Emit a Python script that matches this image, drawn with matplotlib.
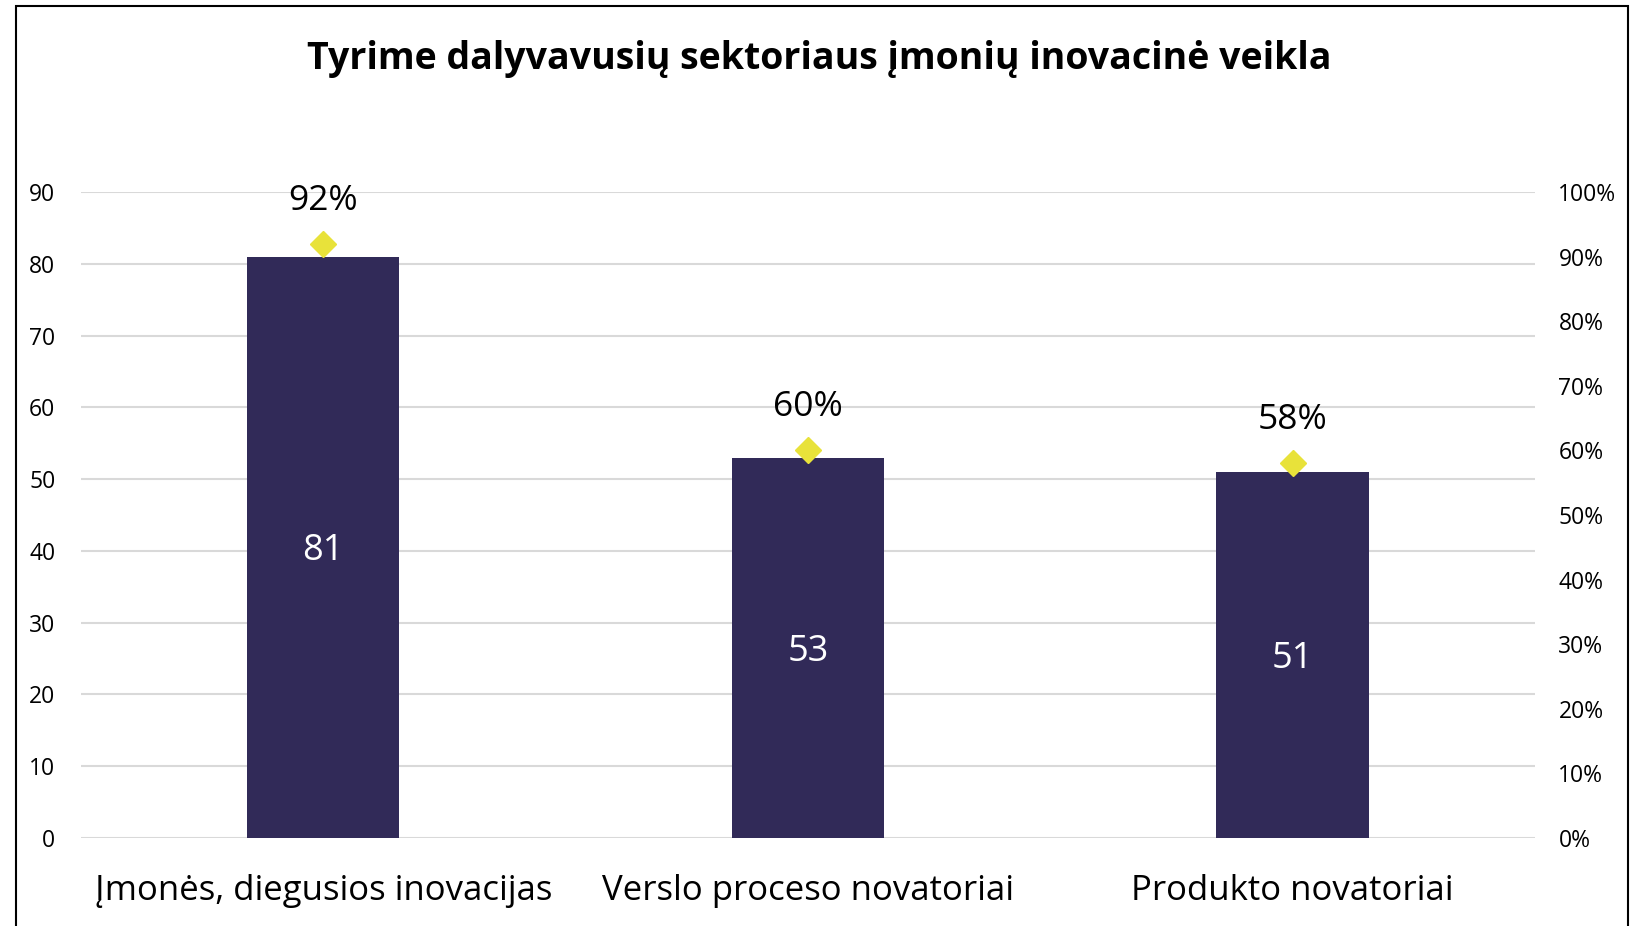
import matplotlib
matplotlib.use("Agg")
import matplotlib.pyplot as plt
from matplotlib.patches import Rectangle
from matplotlib.ticker import PercentFormatter

plt.rcParams["font.family"] = ["Open Sans", "DejaVu Sans"]

categories = ["Įmonės, diegusios inovacijas", "Verslo proceso novatoriai", "Produkto novatoriai"]
counts = [81, 53, 51]
shares = [0.92, 0.60, 0.58]
share_labels = ["92%", "60%", "58%"]

BAR_COLOR = "#312a58"
DIAMOND_COLOR = "#e8e23a"
GRID_COLOR = "#d9d9d9"

fig = plt.figure(figsize=(16.38, 9.26), dpi=100)
ax = fig.add_axes([0.0495, 0.095, 0.8875, 0.6977])
ax2 = ax.twinx()

x = range(len(categories))
ax.bar(x, counts, width=0.314, color=BAR_COLOR, zorder=3)
for i, v in zip(x, counts):
    ax.annotate(str(v), (i, v / 2), xytext=(0, -3), textcoords="offset points",
                ha="center", va="center", color="white", fontsize=26)

ax.set_xlim(-0.5, 2.5)
ax.set_ylim(0, 90)
ax.set_yticks(range(0, 91, 10))
ax.yaxis.grid(True, color=GRID_COLOR, lw=1.5)
ax.set_axisbelow(True)
ax.set_xticks(list(x))
ax.set_xticklabels(categories, fontsize=25)
ax.tick_params(axis="x", length=0, pad=26)
ax.tick_params(axis="y", length=0, pad=18.5, labelsize=16.5)

ax2.plot(x, shares, linestyle="none", marker="D", markersize=13, color=DIAMOND_COLOR, zorder=4)
for i, s, lab in zip(x, shares, share_labels):
    ax2.annotate(lab, (i, s), xytext=(0, 31), textcoords="offset points",
                 ha="center", va="center", fontsize=25.5)
ax2.set_ylim(0, 1.0)
ax2.set_yticks([i / 10 for i in range(11)])
ax2.yaxis.set_major_formatter(PercentFormatter(1.0, decimals=0))
ax2.tick_params(axis="y", length=0, pad=17, labelsize=16.5)

for a in (ax, ax2):
    for sp in a.spines.values():
        sp.set_visible(False)

fig.text(0.5, 0.936, "Tyrime dalyvavusių sektoriaus įmonių inovacinė veikla",
         ha="center", va="center", fontsize=27, fontweight="bold")

fig.patches.append(Rectangle((16 / 1638, -0.05), (1628 - 16) / 1638, 1.05 - 6 / 926,
                             transform=fig.transFigure, fill=False, edgecolor="black", lw=1.5))

fig.savefig("out.png", dpi=100)
